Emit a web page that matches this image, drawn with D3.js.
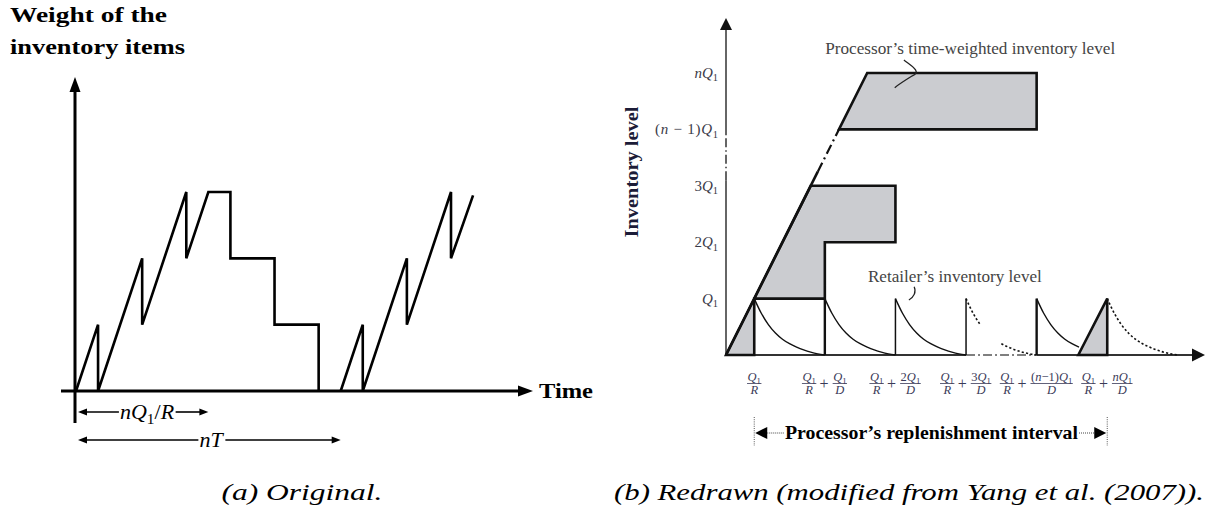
<!DOCTYPE html>
<html>
<head>
<meta charset="utf-8">
<script src="https://cdn.jsdelivr.net/npm/d3@7"></script>
<style>
  body { margin: 0; background: #fff; }
  svg { display: block; }
</style>
</head>
<body>
<svg id="fig" width="1209" height="510"></svg>
<script>
// ---------- Panel (a): weight of the inventory items over time ----------
// vertices of the sawtooth/staircase (time units, level in batches)
const aCycle1T = [0, 1, 1, 3, 3, 5, 5, 6, 7, 7, 9, 9, 11, 11];
const aCycle1L = [0, 1, 0, 2, 1, 3, 2, 3, 3, 2, 2, 1, 1, 0];
const aCycle2T = [12, 13, 13, 15, 15, 17, 17, 18];
const aCycle2L = [0, 1, 0, 2, 1, 3, 2, 2.95];
// dimension arrows below the time axis
const aDimLabels = ["nQ_1/R", "nT"];
const aDimEnds = [6, 12];

// ---------- Panel (b): processor and retailer inventory levels ----------
const qOverR = 0.4;                 // Q1/R in units of Q1/D
const yTickLevels = [1, 2, 3, 4, 5];
const yTickText = ["Q_1", "2Q_1", "3Q_1", "(n − 1)Q_1", "nQ_1"];
const xTickK = [0, 1, 2, 3, 4, 5];
const xTickNum = ["Q_1", "Q_1", "2Q_1", "3Q_1", "(n−1)Q_1", "nQ_1"];
// processor's time-weighted inventory (shaded)
const procLowerT = [0, 1.2, 2.4, 2.4, 1.4, 1.4, 0.4, 0.4];
const procLowerL = [0, 3, 3, 2, 2, 1, 1, 0];
const procUpperT = [1.6, 2.0, 4.4, 4.4];
const procUpperL = [4, 5, 5, 4];
const procLastT = [4.99, 5.4, 5.4];
const procLastL = [0, 1, 0];
const rampSolidT = [0, 1.3], rampSolidL = [0, 3.25];
const rampGapT = [1.3, 1.6], rampGapL = [3.25, 4];
// retailer's level within one cycle, sampled at s = 0, 0.1, ..., 1
const decayShape = [1.00, 0.74, 0.54, 0.39, 0.28, 0.20, 0.14, 0.09, 0.05, 0.02, 0.00];
const retailStart = [0.4, 1.4, 2.4, 3.4, 3.4, 4.4, 5.4];
const retailFrom = [0, 0, 0, 0, 5, 0, 0];
const retailTo = [10, 10, 10, 2, 10, 6, 10];
const retailDotted = [false, false, false, true, true, false, true];
const retailDrops = [1.4, 2.4, 3.4, 4.4];

const serif = "'Liberation Serif', 'DejaVu Serif', serif";
const svg = d3.select("#fig");

// small TeX-like text: letters italic, digits upright, "_x" subscript
function mathText(g, x, y, src, size, anchor, fill) {
  const t = g.append("text").attr("x", x).attr("y", y)
    .attr("font-family", serif).attr("font-size", size)
    .attr("text-anchor", anchor || "start").attr("fill", fill || "#000");
  const runs = [];
  for (let i = 0; i < src.length; i++) {
    let c = src[i], kind;
    if (c === "_") { c = src[++i]; kind = "sub"; }
    else if (/[A-Za-z]/.test(c)) kind = "it";
    else kind = "up";
    const last = runs[runs.length - 1];
    if (last && last.kind === kind && kind !== "sub") last.s += c;
    else runs.push({ s: c, kind });
  }
  let shifted = false;
  runs.forEach(r => {
    const ts = t.append("tspan").text(r.s);
    if (r.kind === "it") ts.attr("font-style", "italic");
    if (r.kind === "sub") {
      ts.attr("font-size", size * 0.7).attr("dy", size * 0.22);
      shifted = true;
    } else if (shifted) {
      ts.attr("dy", -size * 0.22);
      shifted = false;
    }
  });
  return t;
}

function arrowHead(g, tx, ty, dir, len, hw, fill) {
  const [dx, dy] = dir;
  const bx = tx - dx * len, by = ty - dy * len;
  const px = -dy * hw, py = dx * hw;
  g.append("path")
    .attr("d", `M${tx},${ty}L${bx + px},${by + py}L${bx - px},${by - py}Z`)
    .attr("fill", fill || "#000");
}

// ================= Panel (a) =================
const gA = svg.append("g");
const xA = d3.scaleLinear().domain([0, 17]).range([76, 451]);
const yA = d3.scaleLinear().domain([0, 3]).range([391, 192]);

gA.append("text").attr("x", 10).attr("y", 22)
  .attr("font-family", serif).attr("font-weight", "bold").attr("font-size", 21)
  .attr("textLength", 157).attr("lengthAdjust", "spacingAndGlyphs")
  .text("Weight of the");
gA.append("text").attr("x", 10).attr("y", 54)
  .attr("font-family", serif).attr("font-weight", "bold").attr("font-size", 21)
  .attr("textLength", 175).attr("lengthAdjust", "spacingAndGlyphs")
  .text("inventory items");

// axes
gA.append("line").attr("x1", xA(0) - 1).attr("x2", xA(0) - 1)
  .attr("y1", 423).attr("y2", 88).attr("stroke", "#000").attr("stroke-width", 3);
arrowHead(gA, xA(0) - 1, 77, [0, -1], 15, 5.5);
gA.append("line").attr("x1", 61).attr("x2", 520)
  .attr("y1", yA(0)).attr("y2", yA(0)).attr("stroke", "#000").attr("stroke-width", 3);
arrowHead(gA, 533, yA(0), [1, 0], 15, 5.5);
gA.append("text").attr("x", 539).attr("y", 398)
  .attr("font-family", serif).attr("font-weight", "bold").attr("font-size", 22)
  .attr("textLength", 54).attr("lengthAdjust", "spacingAndGlyphs")
  .text("Time");

const lineA = d3.line().x(d => xA(d[0])).y(d => yA(d[1]));
[[aCycle1T, aCycle1L], [aCycle2T, aCycle2L]].forEach(([ts, ls]) => {
  gA.append("path").attr("d", lineA(ts.map((t, i) => [t, ls[i]])))
    .attr("fill", "none").attr("stroke", "#000").attr("stroke-width", 2.6)
    .attr("stroke-linejoin", "miter");
});

// dimension arrows
const dimY = [412, 440];
aDimLabels.forEach((lab, i) => {
  const x0 = xA(0) + 2, x1 = xA(aDimEnds[i]);
  const mid = i === 0 ? 147 : 211;
  const txt = mathText(gA, mid, dimY[i] + 7, lab, 22, "middle");
  const bb = txt.node().getBBox();
  gA.append("line").attr("x1", x0 + 6).attr("x2", bb.x - 1)
    .attr("y1", dimY[i]).attr("y2", dimY[i]).attr("stroke", "#000").attr("stroke-width", 1.6);
  gA.append("line").attr("x1", bb.x + bb.width + 1).attr("x2", x1 - 6)
    .attr("y1", dimY[i]).attr("y2", dimY[i]).attr("stroke", "#000").attr("stroke-width", 1.6);
  arrowHead(gA, x0, dimY[i], [-1, 0], 9, 3.5);
  arrowHead(gA, x1, dimY[i], [1, 0], 9, 3.5);
});

gA.append("text").attr("x", 302).attr("y", 500)
  .attr("font-family", serif).attr("font-style", "italic").attr("font-size", 23)
  .attr("text-anchor", "middle")
  .attr("textLength", 161).attr("lengthAdjust", "spacingAndGlyphs")
  .text("(a) Original.");

// ================= Panel (b) =================
const gB = svg.append("g");
const xB = d3.scaleLinear().domain([0, 1]).range([726, 796.6]);
const yB = d3.scaleLinear().domain([0, 1]).range([355, 298.6]);
const lineB = d3.line().x(d => xB(d[0])).y(d => yB(d[1]));
const pts = (ts, ls) => ts.map((t, i) => [t, ls[i]]);
const grey = "#cbccd0";
const ink = "#111";

// y axis (broken between 3Q1 and (n-1)Q1)
gB.append("line").attr("x1", xB(0)).attr("x2", xB(0))
  .attr("y1", yB(0)).attr("y2", yB(3.1)).attr("stroke", "#333").attr("stroke-width", 1.5);
gB.append("line").attr("x1", xB(0)).attr("x2", xB(0))
  .attr("y1", yB(3.1)).attr("y2", yB(3.9)).attr("stroke", "#333").attr("stroke-width", 1.5)
  .attr("stroke-dasharray", "9,3,1.5,3");
gB.append("line").attr("x1", xB(0)).attr("x2", xB(0))
  .attr("y1", yB(3.9)).attr("y2", 28).attr("stroke", "#333").attr("stroke-width", 1.5);
arrowHead(gB, xB(0), 18, [0, -1], 12, 6, "#111");

// x axis (broken between the 3rd and (n-1)th retailer cycles)
gB.append("line").attr("x1", xB(0)).attr("x2", xB(3.4))
  .attr("y1", yB(0)).attr("y2", yB(0)).attr("stroke", "#333").attr("stroke-width", 2);
gB.append("line").attr("x1", xB(3.4)).attr("x2", xB(4.4))
  .attr("y1", yB(0)).attr("y2", yB(0)).attr("stroke", "#555").attr("stroke-width", 1.6)
  .attr("stroke-dasharray", "9,3,2,3");
gB.append("line").attr("x1", xB(4.4)).attr("x2", 1193)
  .attr("y1", yB(0)).attr("y2", yB(0)).attr("stroke", "#333").attr("stroke-width", 2);
arrowHead(gB, 1205, yB(0), [1, 0], 13, 6.5, "#111");

// shaded processor areas (fill)
[[procLowerT, procLowerL], [procUpperT, procUpperL], [procLastT, procLastL]].forEach(([t, l]) => {
  gB.append("path").attr("d", lineB(pts(t, l)) + "Z").attr("fill", grey).attr("stroke", "none");
});

// retailer's inventory level
const lineR = d3.line().x(d => xB(d[0])).y(d => yB(d[1])).curve(d3.curveMonotoneX);
retailStart.forEach((t0, i) => {
  const seg = [];
  for (let k = retailFrom[i]; k <= retailTo[i]; k++) seg.push([t0 + k / 10, decayShape[k]]);
  gB.append("path").attr("d", lineR(seg)).attr("fill", "none")
    .attr("stroke", ink).attr("stroke-width", retailDotted[i] ? 1.6 : 1.4)
    .attr("stroke-dasharray", retailDotted[i] ? "2.2,2.2" : null);
});
retailDrops.forEach((t, i) => {
  gB.append("line").attr("x1", xB(t)).attr("x2", xB(t)).attr("y1", yB(0)).attr("y2", yB(1))
    .attr("stroke", ink).attr("stroke-width", (i === 0 || i === 3) ? 2.4 : 1.5);
});

// outlines of processor areas
[[procLowerT, procLowerL], [procUpperT, procUpperL], [procLastT, procLastL]].forEach(([t, l]) => {
  gB.append("path").attr("d", lineB(pts(t, l)) + "Z").attr("fill", "none")
    .attr("stroke", ink).attr("stroke-width", 2.6).attr("stroke-linejoin", "miter");
});
gB.append("path").attr("d", lineB(pts(rampSolidT, rampSolidL)))
  .attr("stroke", ink).attr("stroke-width", 2.6).attr("fill", "none");
gB.append("path").attr("d", lineB(pts(rampGapT, rampGapL)))
  .attr("stroke", ink).attr("stroke-width", 2.2).attr("fill", "none")
  .attr("stroke-dasharray", "10,4,2,4");

// y tick labels
yTickLevels.forEach((lv, i) => {
  const t = mathText(gB, 718, yB(lv) + 5, yTickText[i], 15, "end", "#3a3a48");
  if (i === 3) t.attr("textLength", 63).attr("lengthAdjust", "spacing");
});

// x tick labels (fractions)
function fraction(g, x, barY, num, den, size) {
  const fg = g.append("g");
  const n = mathText(fg, x, barY - 2.5, num, size, "middle", "#3a3a58");
  const d = mathText(fg, x, barY + 10, den, size, "middle", "#3a3a58");
  const w = Math.max(n.node().getBBox().width, d.node().getBBox().width);
  fg.append("line").attr("x1", x - w / 2 - 0.5).attr("x2", x + w / 2 + 0.5)
    .attr("y1", barY).attr("y2", barY).attr("stroke", "#3a3a58").attr("stroke-width", 0.8);
  return w;
}
const barY = 383.5, fs = 12.5;
xTickK.forEach((k, i) => {
  const cx = xB(qOverR + k);
  if (i === 0) { fraction(gB, cx, barY, "Q_1", "R", fs); return; }
  // measure the second fraction to lay out "a + b" centred on the tick
  const tmp = mathText(gB, 0, 0, xTickNum[i], fs, "start");
  const w2 = tmp.node().getBBox().width; tmp.remove();
  const w1 = 12, plusW = 18;
  const total = w1 + plusW + w2;
  const left = cx - total / 2;
  fraction(gB, left + w1 / 2, barY, "Q_1", "R", fs);
  gB.append("text").attr("x", left + w1 + plusW / 2).attr("y", barY + 5)
    .attr("font-family", serif).attr("font-size", 16).attr("text-anchor", "middle")
    .attr("fill", "#3a3a58").text("+");
  fraction(gB, left + w1 + plusW + w2 / 2, barY, xTickNum[i], "D", fs);
});

// axis title
gB.append("text").attr("transform", `translate(638,172) rotate(-90)`)
  .attr("font-family", serif).attr("font-weight", "bold").attr("font-size", 18)
  .attr("text-anchor", "middle").attr("fill", "#1c1c38")
  .attr("textLength", 131).attr("lengthAdjust", "spacingAndGlyphs")
  .text("Inventory level");

// annotations
gB.append("text").attr("x", xB(1.405)).attr("y", 54)
  .attr("font-family", serif).attr("font-size", 17).attr("fill", "#444")
  .attr("textLength", 290).attr("lengthAdjust", "spacingAndGlyphs")
  .text("Processor’s time-weighted inventory level");
const p1 = d3.path();
p1.moveTo(xB(2.52), yB(5.23));
p1.bezierCurveTo(xB(2.62), yB(5.13), xB(2.78), yB(5.02), xB(2.64), yB(4.95));
p1.bezierCurveTo(xB(2.55), yB(4.88), xB(2.45), yB(4.8), xB(2.39), yB(4.74));
gB.append("path").attr("d", p1.toString()).attr("fill", "none")
  .attr("stroke", "#222").attr("stroke-width", 1.3);

gB.append("text").attr("x", xB(2.01)).attr("y", 282)
  .attr("font-family", serif).attr("font-size", 17).attr("fill", "#444")
  .attr("textLength", 174).attr("lengthAdjust", "spacingAndGlyphs")
  .text("Retailer’s inventory level");
const p2 = d3.path();
p2.moveTo(xB(2.665), yB(1.21));
p2.bezierCurveTo(xB(2.7), yB(1.12), xB(2.66), yB(1.02), xB(2.59), yB(0.975));
gB.append("path").attr("d", p2.toString()).attr("fill", "none")
  .attr("stroke", "#222").attr("stroke-width", 1.2);

// processor's replenishment interval
const iy = 433;
const ix0 = xB(qOverR), ix1 = xB(qOverR + 5);
[ix0, ix1].forEach(x => {
  gB.append("line").attr("x1", x).attr("x2", x).attr("y1", 417).attr("y2", 446)
    .attr("stroke", "#555").attr("stroke-width", 1).attr("stroke-dasharray", "1,1.2");
});
arrowHead(gB, ix0 + 1, iy, [-1, 0], 12, 6);
arrowHead(gB, ix1 - 1, iy, [1, 0], 12, 6);
gB.append("line").attr("x1", ix0 + 13).attr("x2", 784).attr("y1", iy).attr("y2", iy)
  .attr("stroke", "#444").attr("stroke-width", 1).attr("stroke-dasharray", "1,1");
gB.append("line").attr("x1", 1079).attr("x2", ix1 - 13).attr("y1", iy).attr("y2", iy)
  .attr("stroke", "#444").attr("stroke-width", 1).attr("stroke-dasharray", "1,1");
gB.append("text").attr("x", 785).attr("y", 439)
  .attr("font-family", serif).attr("font-weight", "bold").attr("font-size", 18)
  .attr("textLength", 293).attr("lengthAdjust", "spacingAndGlyphs")
  .text("Processor’s replenishment interval");

gB.append("text").attr("x", 614).attr("y", 500)
  .attr("font-family", serif).attr("font-style", "italic").attr("font-size", 23)
  .attr("textLength", 590).attr("lengthAdjust", "spacingAndGlyphs")
  .text("(b) Redrawn (modified from Yang et al. (2007)).");
</script>
</body>
</html>
